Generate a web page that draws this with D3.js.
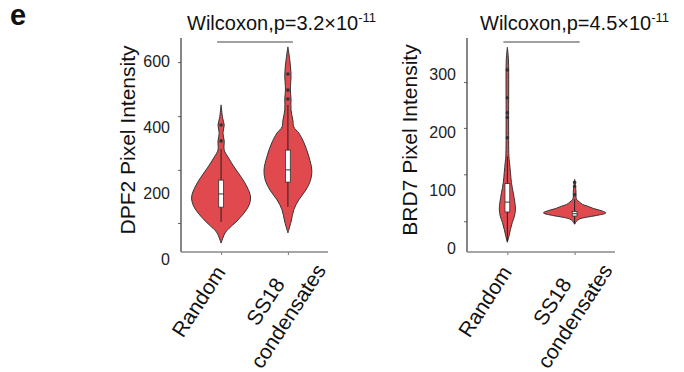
<!DOCTYPE html>
<html>
<head>
<meta charset="utf-8">
<script src="https://cdn.jsdelivr.net/npm/d3@7"></script>
<style>
  body { margin: 0; background: #fff; }
  svg { font-family: "Liberation Sans", Arial, sans-serif; }
</style>
</head>
<body>
<div id="chart"></div>
<script>
// categories (multi-line tick labels)
const categories = ["Random", "SS18 condensates"];
const categoryLines = [["Random"], ["SS18", "condensates"]];

// violin outlines: [value, relative density]
const dpf2Random = [[48,0],[79,0.13],[93,0.26],[112,0.48],[139,0.74],[163,0.9],[188,0.95],[218,0.84],[248,0.65],[279,0.42],[309,0.22],[330,0.1],[358,0.1],[382,0.06],[406,0.1],[427,0.05],[467,0]];
const dpf2SS18 = [[79,0],[112,0.1],[149,0.19],[179,0.35],[209,0.58],[239,0.73],[270,0.77],[309,0.68],[352,0.52],[382,0.35],[400,0.19],[421,0.16],[452,0.1],[485,0.1],[512,0.08],[561,0.1],[603,0.06],[643,0]];
const brd7Random = [[10,0],[20,0.05],[32,0.1],[44,0.16],[55,0.23],[67,0.26],[79,0.24],[95,0.19],[113,0.13],[130,0.1],[147,0.07],[158,0.05],[221,0.04],[324,0.035],[346,0]];
const brd7SS18 = [[41,0],[46,0.06],[50,0.16],[53,0.39],[56,0.71],[60,1.0],[61,1.0],[65,0.81],[68,0.61],[72,0.42],[75,0.26],[79,0.16],[84,0.06],[100,0.04],[118,0]];

// box stats: [lower whisker, q1, median, q3, upper whisker]
const dpf2RandomBox = [112, 157, 197, 239, 333];
const dpf2SS18Box = [158, 233, 270, 330, 467];
const brd7RandomBox = [10, 62, 79, 111, 158];
const brd7SS18Box = [41, 55, 59, 63, 84];

// outlier points
const dpf2RandomOut = [358, 406];
const dpf2SS18Out = [485, 512, 561];
const brd7RandomOut = [190, 225, 233, 259, 307];
const brd7SS18Out = [92, 106, 113];

// axis ticks
const dpf2TickLabels = [0, 200, 400, 600];
const dpf2TickMarks = [109, 270, 433, 597];
const brd7TickLabels = [0, 100, 200, 300];
const brd7TickMarks = [46, 127, 207, 286];

const yTitles = ["DPF2 Pixel Intensity", "BRD7 Pixel Intensity"];
const pTexts = ["Wilcoxon,p=3.2×10", "Wilcoxon,p=4.5×10"];
const pExps = ["-11", "-11"];

const svg = d3.select("#chart")
  .append("svg")
  .attr("width", 684)
  .attr("height", 372);

// panel letter
svg.append("text")
  .attr("x", 10)
  .attr("y", 25)
  .style("font-size", "29px")
  .style("font-weight", "bold")
  .attr("fill", "#111")
  .text("e");

const plotTop = 38, plotBottom = 252;
const fillColor = "#e04a4f";

function drawPanel(p) {
  const g = svg.append("g").attr("transform", `translate(${p.left},0)`);

  const y = d3.scaleLinear().domain(p.yDomain).range([plotBottom, plotTop]);
  const x = d3.scalePoint().domain(categories).range([0, p.width]).padding(0.6);
  const w = d3.scaleLinear().domain([0, 1]).range([0, 31]);

  // y tick labels
  g.append("g")
    .call(d3.axisLeft(y).tickValues(p.tickLabels).tickSize(0).tickPadding(11))
    .call(a => a.select(".domain").remove())
    .selectAll("text")
    .style("font-size", "16px")
    .style("font-family", "Liberation Sans, Arial, sans-serif")
    .attr("fill", "#222");

  // y tick marks
  g.append("g")
    .call(d3.axisLeft(y).tickValues(p.tickMarks).tickSize(3).tickFormat(""))
    .call(a => a.select(".domain").remove())
    .selectAll("line").attr("stroke", "#666");

  // y axis line
  g.append("line")
    .attr("x1", 0).attr("x2", 0)
    .attr("y1", plotTop).attr("y2", plotBottom)
    .attr("stroke", "#444").attr("stroke-width", 1.3);

  // x axis
  g.append("g")
    .attr("transform", `translate(0,${plotBottom})`)
    .call(d3.axisBottom(x).tickSize(3).tickFormat(""))
    .call(a => a.select(".domain").remove())
    .selectAll("line").attr("stroke", "#777");

  g.append("line")
    .attr("x1", 0).attr("x2", p.width)
    .attr("y1", plotBottom).attr("y2", plotBottom)
    .attr("stroke", "#888").attr("stroke-width", 1.5);

  // category labels, rotated
  categories.forEach((c, i) => {
    const lab = g.append("g")
      .attr("transform", `translate(${x(c)},${plotBottom + 8}) rotate(-57)`);
    categoryLines[i].forEach((line, j) => {
      lab.append("text")
        .attr("x", -47)
        .attr("y", 11 + j * 27)
        .attr("text-anchor", "middle")
        .style("font-size", "21px")
        .attr("fill", "#111")
        .text(line);
    });
  });

  // y axis title
  g.append("text")
    .attr("transform", `translate(${-p.yTitleOffset},140) rotate(-90)`)
    .attr("text-anchor", "middle")
    .style("font-size", "21px")
    .attr("fill", "#111")
    .text(p.yTitle);

  // significance title + bar
  const t = g.append("text")
    .attr("x", p.titleX)
    .attr("y", 30)
    .style("font-size", "20px")
    .attr("fill", "#111")
    .text(p.pText);
  t.append("tspan")
    .attr("dy", -8)
    .style("font-size", "13px")
    .text(p.pExp);

  g.append("line")
    .attr("x1", x(categories[0]) - 4)
    .attr("x2", x(categories[1]) + 5)
    .attr("y1", 42).attr("y2", 42)
    .attr("stroke", "#444").attr("stroke-width", 1.2);

  // violins
  p.groups.forEach((grp, i) => {
    const cx = x(categories[i]);
    const area = d3.area()
      .y(d => y(d[0]))
      .x0(d => cx - w(d[1]))
      .x1(d => cx + w(d[1]))
      .curve(d3.curveCatmullRom);

    g.append("path")
      .datum(grp.density)
      .attr("d", area)
      .attr("fill", fillColor)
      .attr("stroke", "#333")
      .attr("stroke-width", 1);

    const [lo, q1, med, q3, hi] = grp.box;
    g.append("line")
      .attr("x1", cx).attr("x2", cx)
      .attr("y1", y(lo)).attr("y2", y(hi))
      .attr("stroke", "#222").attr("stroke-width", 1);

    g.append("rect")
      .attr("x", cx - 2.4)
      .attr("y", y(q3))
      .attr("width", 4.8)
      .attr("height", y(q1) - y(q3))
      .attr("fill", "#fff")
      .attr("stroke", "#333")
      .attr("stroke-width", 0.8);

    g.append("line")
      .attr("x1", cx - 2.4).attr("x2", cx + 2.4)
      .attr("y1", y(med)).attr("y2", y(med))
      .attr("stroke", "#333").attr("stroke-width", 1);

    g.selectAll(null)
      .data(grp.outliers)
      .enter()
      .append("circle")
      .attr("cx", cx)
      .attr("cy", d => y(d))
      .attr("r", 1.8)
      .attr("fill", "#333");
  });
}

drawPanel({
  left: 181, width: 147, yDomain: [21, 670],
  tickLabels: dpf2TickLabels, tickMarks: dpf2TickMarks,
  yTitle: yTitles[0], yTitleOffset: 46,
  pText: pTexts[0], pExp: pExps[0], titleX: 6,
  groups: [
    { density: dpf2Random, box: dpf2RandomBox, outliers: dpf2RandomOut },
    { density: dpf2SS18, box: dpf2SS18Box, outliers: dpf2SS18Out }
  ]
});

drawPanel({
  left: 467, width: 148, yDomain: [-7, 362],
  tickLabels: brd7TickLabels, tickMarks: brd7TickMarks,
  yTitle: yTitles[1], yTitleOffset: 50,
  pText: pTexts[1], pExp: pExps[1], titleX: 13,
  groups: [
    { density: brd7Random, box: brd7RandomBox, outliers: brd7RandomOut },
    { density: brd7SS18, box: brd7SS18Box, outliers: brd7SS18Out }
  ]
});
</script>
</body>
</html>
